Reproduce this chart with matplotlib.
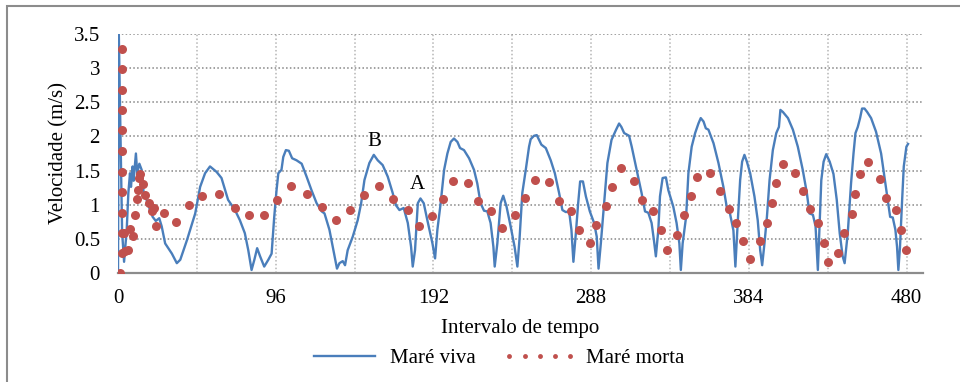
import matplotlib
matplotlib.use("Agg")
import matplotlib.pyplot as plt
from matplotlib.lines import Line2D
from matplotlib.patches import Rectangle

plt.rcParams['font.family'] = ['Liberation Serif', 'DejaVu Serif']

# Maré viva (linha azul)
viva_x = [0, 0.5, 1.5, 2.5, 3.7, 5.3, 6.3, 7.3, 7.9, 8.9, 9.5, 10.9, 11.7, 13.0, 14.4,
          15.8, 17.4, 19.5, 21.1, 23.0, 25.1, 26.6, 28.7, 32.8, 35.8, 37.9, 42.0, 47.0,
          50.0, 53.0, 56.0, 60.0, 63.0, 67.0, 71.2, 74.2, 77.2, 79.3, 81.3, 83.0, 84.7,
          86.5, 89.0, 91.5, 93.5, 95.1, 96.5, 97.6, 99.5, 100.6, 102.2, 104.0, 106.0,
          108.7, 111.8, 114.8, 117.8, 120.9, 124.0, 125.7, 128.7, 130.7, 133.3, 134.8,
          136.8, 138.2, 139.8, 142.9, 145.9, 148.0, 150.0, 153.0, 155.7, 158.1, 161.1,
          164.2, 167.2, 169.2, 171.3, 173.9, 176.4, 178.4, 179.4, 180.8, 182.5, 184.1,
          186.1, 188.4, 191.4, 193.0, 194.4, 196.4, 198.5, 200.5, 202.5, 204.5, 206.6,
          208.2, 210.6, 213.7, 216.7, 218.7, 220.7, 222.8, 224.8, 226.8, 228.5, 229.3,
          230.9, 232.9, 234.5, 236.5, 239.0, 241.4, 243.1, 244.5, 246.1, 248.2, 250.2,
          251.2, 253.2, 254.9, 257.7, 260.4, 263.4, 265.9, 268.5, 270.5, 272.6, 274.6,
          276.0, 277.2, 278.7, 280.1, 281.3, 283.0, 284.8, 287.2, 289.8, 291.4, 292.5,
          293.9, 295.9, 297.9, 300.4, 303.0, 305.0, 306.4, 308.1, 311.1, 312.7, 315.7,
          318.7, 320.8, 322.8, 324.8, 326.2, 327.4, 328.9, 329.9, 331.5, 333.5, 335.0,
          338.0, 340.0, 341.7, 342.6, 343.7, 345.8, 347.2, 349.2, 351.3, 353.3, 354.7,
          356.4, 357.8, 359.4, 362.5, 365.5, 368.5, 370.5, 372.5, 374.6, 375.8, 377.2,
          378.7, 379.9, 381.3, 382.8, 384.8, 387.4, 389.4, 390.9, 392.1, 393.5, 395.0,
          396.6, 398.6, 400.7, 402.3, 403.2, 404.7, 407.8, 410.8, 413.8, 416.8, 419.3,
          420.9, 423.0, 424.6, 425.4, 426.0, 427.1, 428.1, 429.5, 431.1, 433.2, 435.5,
          437.5, 439.3, 441.1, 442.3, 444.2, 446.2, 447.7, 448.9, 450.3, 451.7, 452.9,
          454.4, 456.0, 458.4, 461.4, 464.5, 466.5, 468.5, 470.0, 471.6, 473.2, 474.2,
          475.0, 476.0, 477.3, 478.3, 479.9, 480.9]
viva_y = [0, 3.5, 2.0, 0.6, 0.16, 0.63, 1.17, 1.46, 1.26, 1.56, 1.35, 1.75, 1.46, 1.60, 1.51,
          1.12, 1.07, 0.92, 0.82, 0.76, 0.80, 0.68, 0.43, 0.28, 0.14, 0.19, 0.48, 0.87,
          1.26, 1.46, 1.56, 1.48, 1.39, 1.07, 0.92, 0.77, 0.58, 0.33, 0.04, 0.19, 0.36,
          0.24, 0.09, 0.19, 0.28, 0.82, 1.21, 1.46, 1.51, 1.70, 1.80, 1.79, 1.68,
          1.65, 1.60, 1.41, 1.21, 1.02, 0.90, 0.87, 0.63, 0.38, 0.06, 0.14,
          0.17, 0.11, 0.33, 0.53, 0.77, 1.02, 1.36, 1.61, 1.73, 1.65, 1.58,
          1.41, 1.17, 0.99, 0.92, 0.95, 0.73, 0.38, 0.09, 0.33, 1.02, 1.09,
          1.02, 0.76, 0.43, 0.21, 0.63, 1.02, 1.51, 1.75, 1.92, 1.97, 1.92,
          1.83, 1.80, 1.68, 1.51, 1.31, 1.02, 0.91, 0.90, 0.73, 0.38, 0.09,
          0.43, 1.02, 1.13, 0.97, 0.68, 0.38, 0.09, 0.53, 1.17, 1.51, 1.85,
          1.96, 2.01, 2.02, 1.88, 1.83, 1.65, 1.46, 1.17, 0.92, 0.89, 0.90,
          0.63, 0.16, 0.58, 1.02, 1.34, 1.34, 1.12, 0.90, 0.73, 0.53, 0.06,
          0.43, 1.02, 1.61, 1.95, 2.09, 2.19, 2.14, 2.05, 2.01, 1.85, 1.51,
          1.17, 0.90, 0.88, 0.73, 0.48, 0.24, 0.63, 1.12, 1.39, 1.40, 1.21,
          0.97, 0.73, 0.43, 0.04, 0.43, 0.82, 1.46, 1.85, 2.05, 2.19, 2.27,
          2.22, 2.12, 2.10, 1.90, 1.61, 1.26, 0.97, 0.87, 0.62, 0.09, 0.73,
          1.36, 1.63, 1.73, 1.63, 1.46, 1.12, 0.77, 0.33, 0.11, 0.43, 0.82,
          1.36, 1.80, 2.05, 2.14, 2.39, 2.36, 2.27, 2.10, 1.85, 1.51, 1.17,
          0.87, 0.85, 0.68, 0.33, 0.04, 0.73, 1.36, 1.63, 1.74, 1.63, 1.45,
          1.07, 0.58, 0.24, 0.14, 0.58, 1.31, 1.75, 2.05, 2.14, 2.27, 2.41,
          2.41, 2.36, 2.27, 2.07, 1.75, 1.41, 1.07, 0.82, 0.81, 0.63, 0.38,
          0.04, 0.38, 1.07, 1.56, 1.85, 1.89]

# Maré morta (pontos vermelhos)
morta_x = [1.5, 2.5, 2.5, 2.5, 2.5, 2.5, 2.5, 2.5, 2.5, 2.5, 2.5, 2.5,
           3.4, 4.5, 6, 7.5, 8.9, 10.1, 11.3, 12.2, 12.6, 13.6, 15, 16.2, 19, 20.6, 21.7,
           23.3, 28.3, 35.5, 43, 51, 61.6, 71.3, 79.8, 88.8, 96.7, 105.2, 115.2, 124,
           132.8, 141.3, 149.6, 159.1, 167.2, 176.4, 183.5, 191, 198, 204, 213.3, 219.2,
           227.3, 234, 241.7, 247.9, 253.6, 262.6, 268.2, 276, 280.8, 287.1, 291.2,
           296.8, 300.7, 306.2, 314, 318.7, 325.8, 330.3, 334.3, 340.4, 344.6, 348.9,
           352.5, 360.2, 366.3, 372, 376.4, 380.3, 384.8, 390.5, 394.9, 398, 400.7,
           404.7, 412.2, 416.8, 421.5, 426.3, 430, 432.4, 438.3, 442, 446.7, 448.7,
           451.5, 456.8, 463.7, 467.4, 473.5, 476.5, 479.5]
morta_y = [0.0, 0.29, 0.59, 0.88, 1.18, 1.48, 1.79, 2.09, 2.39, 2.68, 2.99, 3.29,
           0.59, 0.32, 0.34, 0.64, 0.54, 0.85, 1.08, 1.21, 1.39, 1.45, 1.30, 1.14, 1.02,
           0.90, 0.95, 0.68, 0.88, 0.74, 1.0, 1.13, 1.15, 0.95, 0.84, 0.84, 1.06, 1.27,
           1.16, 0.96, 0.78, 0.92, 1.14, 1.27, 1.08, 0.92, 0.68, 0.83, 1.08, 1.35, 1.31,
           1.05, 0.90, 0.65, 0.84, 1.09, 1.36, 1.33, 1.05, 0.90, 0.62, 0.43, 0.70,
           0.98, 1.26, 1.53, 1.35, 1.06, 0.91, 0.62, 0.34, 0.56, 0.84, 1.13,
           1.41, 1.46, 1.20, 0.94, 0.73, 0.46, 0.20, 0.46, 0.73, 1.03, 1.32,
           1.60, 1.47, 1.20, 0.93, 0.73, 0.44, 0.15, 0.29, 0.58, 0.86, 1.16,
           1.45, 1.63, 1.38, 1.10, 0.92, 0.63, 0.33]

x_ticks = list(range(0, 481, 48))
x_labels = [str(t) if t % 96 == 0 else "" for t in x_ticks]
y_ticks = [0, 0.5, 1, 1.5, 2, 2.5, 3, 3.5]
y_labels = ["0", "0.5", "1", "1.5", "2", "2.5", "3", "3.5"]

blue = "#4a7ebb"
red = "#c0504d"
fs = 15

fig = plt.figure(figsize=(9.6, 3.82), dpi=100)
ax = fig.add_axes([118 / 960, 1 - 272.7 / 382, 805 / 960, (272.7 - 34.3) / 382])

ax.plot(viva_x, viva_y, color=blue, linewidth=1.7, zorder=3)
ax.plot(morta_x, morta_y, linestyle="none", marker="o", markersize=6.5,
        color=red, markeredgewidth=0, zorder=4)

# textos A e B
ax.text(156, 1.92, "B", fontsize=fs, ha="center", va="center")
ax.text(182.5, 1.30, "A", fontsize=fs, ha="center", va="center")

ax.set_xlim(0, 490)
ax.set_ylim(0, 3.5)
ax.set_xticks(x_ticks)
ax.set_xticklabels(x_labels)
ax.set_yticks(y_ticks)
ax.set_yticklabels(y_labels)
ax.tick_params(length=0, labelsize=fs)
ax.tick_params(axis="x", pad=12)
ax.tick_params(axis="y", pad=13)

# grade pontilhada
ax.yaxis.grid(True, linestyle=(0, (1, 1.5)), color="#868686", linewidth=1.1)
ax.xaxis.grid(True, linestyle=(0, (1, 1.5)), color="#b5b5b5", linewidth=1.1)
ax.set_axisbelow(True)

for s in ["top", "right", "left"]:
    ax.spines[s].set_visible(False)
ax.spines["bottom"].set_color("#8c8c8c")
ax.spines["bottom"].set_linewidth(1.6)

ax.set_xlabel("Intervalo de tempo", fontsize=fs, labelpad=8)
ax.set_ylabel("Velocidade (m/s)", fontsize=fs, labelpad=4)

# legenda
handles = [Line2D([], [], color=blue, linewidth=1.7),
           Line2D([], [], color=red, linestyle="none", marker="o", markersize=3.5,
                  markeredgewidth=0)]
leg = fig.legend(handles, ["Maré viva", "Maré morta"], loc="center",
                 bbox_to_anchor=(496 / 960, 1 - 358 / 382), ncol=2, frameon=False,
                 fontsize=fs, handlelength=3.5, handletextpad=0.45, columnspacing=1.3,
                 numpoints=5)

# borda do gráfico
fig.patches.append(Rectangle((7 / 960, -0.1), 1.1, 1 - 6 / 382 + 0.1,
                             transform=fig.transFigure, fill=False,
                             edgecolor="#8c8c8c", linewidth=1.5))

fig.savefig("out.png", dpi=100)
